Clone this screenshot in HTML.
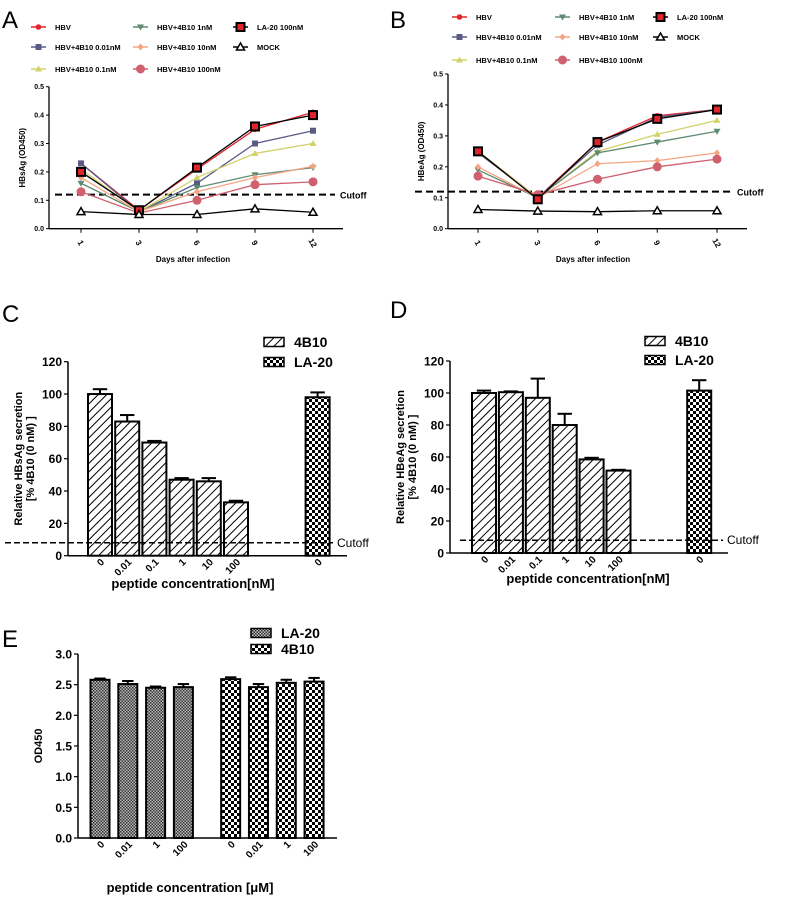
<!DOCTYPE html>
<html><head><meta charset="utf-8"><style>
html,body{margin:0;padding:0;background:#fff}
svg{display:block;font-family:"Liberation Sans",Arial,sans-serif}
</style></head><body>
<svg id="fig" width="787" height="897" viewBox="0 0 787 897" xmlns="http://www.w3.org/2000/svg">
<defs>
<pattern id="hatch" patternUnits="userSpaceOnUse" width="6" height="6" patternTransform="rotate(45)"><rect width="6" height="6" fill="#fff"/><line x1="0" y1="0" x2="0" y2="6" stroke="#000" stroke-width="2"/></pattern>
<pattern id="check" patternUnits="userSpaceOnUse" width="6" height="6"><rect width="6" height="6" fill="#fff"/><rect width="3" height="3" fill="#000"/><rect x="3" y="3" width="3" height="3" fill="#000"/></pattern>
<pattern id="fine" patternUnits="userSpaceOnUse" width="3" height="3"><rect width="3" height="3" fill="#bbb"/><rect width="1.5" height="1.5" fill="#333"/><rect x="1.5" y="1.5" width="1.5" height="1.5" fill="#333"/></pattern>
</defs>
</svg>
<script>
// ---------- data: panels A & B ----------
const dayLabels = ["1","3","6","9","12"];
const seriesNames = ["HBV","HBV+4B10 0.01nM","HBV+4B10 0.1nM","HBV+4B10 1nM","HBV+4B10 10nM","HBV+4B10 100nM","LA-20 100nM","MOCK"];
const aHBV   = [0.23,0.065,0.21,0.35,0.41];
const a001   = [0.23,0.06,0.16,0.30,0.345];
const a01    = [0.21,0.06,0.18,0.265,0.30];
const a1     = [0.16,0.06,0.145,0.19,0.215];
const a10    = [0.18,0.06,0.13,0.18,0.22];
const a100   = [0.13,0.055,0.10,0.155,0.165];
const aLA    = [0.20,0.065,0.215,0.36,0.40];
const aMOCK  = [0.06,0.05,0.05,0.07,0.058];
const bHBV   = [0.25,0.10,0.28,0.365,0.385];
const b001   = [0.245,0.10,0.27,0.36,0.385];
const b01    = [0.25,0.10,0.25,0.305,0.35];
const b1     = [0.19,0.10,0.245,0.28,0.315];
const b10    = [0.20,0.10,0.21,0.22,0.245];
const b100   = [0.17,0.11,0.16,0.20,0.225];
const bLA    = [0.25,0.095,0.28,0.355,0.385];
const bMOCK  = [0.062,0.057,0.055,0.058,0.058];
const lineTicks = [0,0.1,0.2,0.3,0.4,0.5];
const cutoffAB = 0.12;
// ---------- data: panels C & D ----------
const concLabels = ["0","0.01","0.1","1","10","100","0"];
const cVals = [100,83,70,47,46,33,98];
const cErr  = [3,4,1,1,2,1,3];
const dVals = [100,100.5,97,80,58.5,51.5,101.5];
const dErr  = [1.5,0.5,12,7,1,0.5,6.5];
const barTicks = [0,20,40,60,80,100,120];
const cutoffCD = 8;
// ---------- data: panel E ----------
const eLabels = ["0","0.01","1","100","0","0.01","1","100"];
const eVals = [2.58,2.51,2.45,2.46,2.59,2.46,2.53,2.55];
const eErr  = [0.02,0.05,0.02,0.05,0.03,0.05,0.05,0.06];
const eTicks = [0,0.5,1.0,1.5,2.0,2.5,3.0];

const svg = document.getElementById('fig');
const NS = 'http://www.w3.org/2000/svg';
function mk(tag, attrs, name, parent){
  const el = document.createElementNS(NS, tag);
  for (const k in attrs) el.setAttribute(k, attrs[k]);
  
  
  (parent||svg).appendChild(el);
  return el;
}
function txt(x,y,s,size,name,extra){
  const a = Object.assign({x:x,y:y,'font-size':size,'font-weight':'bold',fill:'#000'}, extra||{});
  const t = mk('text', a, name);
  t.textContent = s;
  return t;
}
const colors = ["#e0252b","#5a5a85","#d2d26a","#5f8a72","#f4a582","#d0606e","#000","#000"];
function marker(g,type,x,y,col){
  if(type===0) mk('circle',{cx:x,cy:y,r:2.8,fill:col},'marker',g);
  else if(type===1) mk('rect',{x:x-3,y:y-3,width:6,height:6,fill:col},'marker',g);
  else if(type===2) mk('path',{d:`M${x},${y-3.5}L${x+3.5},${y+2.5}L${x-3.5},${y+2.5}Z`,fill:col},'marker',g);
  else if(type===3) mk('path',{d:`M${x},${y+3.5}L${x+3.5},${y-2.5}L${x-3.5},${y-2.5}Z`,fill:col},'marker',g);
  else if(type===4) mk('path',{d:`M${x},${y-3.5}L${x+3},${y}L${x},${y+3.5}L${x-3},${y}Z`,fill:col},'marker',g);
  else if(type===5) mk('circle',{cx:x,cy:y,r:4.5,fill:col},'marker',g);
  else if(type===6) mk('rect',{x:x-4,y:y-4,width:8,height:8,fill:'#e0252b',stroke:'#000','stroke-width':2},'marker',g);
  else mk('path',{d:`M${x},${y-4}L${x+4},${y+3}L${x-4},${y+3}Z`,fill:'#fff',stroke:'#000','stroke-width':1.5},'marker',g);
}
function lineChart(p){
  const ys = v => p.y0 - (v/0.5)*(p.y0-p.yTop);
  const xs = i => p.xFirst + i*p.step;
  txt(p.letterX,28,p.letter,24,'panel-letter-'+p.letter,{'font-weight':'normal'});
  const cols=[p.lx1,p.lx2,p.lx3];
  const order=[[0,0],[1,0],[2,0],[3,1],[4,1],[5,1],[6,2],[7,2]];
  const rowFor=[0,1,2,0,1,2,0,1];
  order.forEach(([si,ci])=>{
    const g = mk('g',{},'legend-entry');
    const y = p.rows[rowFor[si]], x = cols[ci];
    mk('line',{x1:x,y1:y,x2:x+15,y2:y,stroke:colors[si],'stroke-width':1.5},'legend-line',g);
    marker(g,si,x+7.5,y,colors[si]);
    const t = mk('text',{x:x+24,y:y+3,'font-size':7.5,'font-weight':'bold'},'legend-label',g);
    t.textContent = seriesNames[si];
  });
  mk('line',{x1:p.x0,y1:p.y0,x2:p.x0,y2:p.yTop,stroke:'#000','stroke-width':1.3},'y-axis');
  mk('line',{x1:p.x0,y1:p.y0,x2:p.xEnd,y2:p.y0,stroke:'#000','stroke-width':1.3},'x-axis');
  lineTicks.forEach(v=>{
    mk('line',{x1:p.x0-3,y1:ys(v),x2:p.x0,y2:ys(v),stroke:'#000','stroke-width':1},'y-tick');
    txt(p.x0-5,ys(v)+2.5,v.toFixed(1),7,'y-tick-label',{'text-anchor':'end'});
  });
  dayLabels.forEach((d,i)=>{
    mk('line',{x1:xs(i),y1:p.y0,x2:xs(i),y2:p.y0+4,stroke:'#000','stroke-width':1},'x-tick');
    txt(xs(i),p.y0+17,d,8,'x-tick-label',{'text-anchor':'middle',transform:`rotate(60 ${xs(i)} ${p.y0+14})`});
  });
  txt(p.xLabel,262,'Days after infection',8,'x-axis-title',{'text-anchor':'middle'});
  txt(0,0,p.yTitle,8,'y-axis-title',{'text-anchor':'middle',transform:`translate(${p.x0-24},${(p.y0+p.yTop)/2}) rotate(-90)`});
  mk('line',{x1:p.cx1,y1:ys(cutoffAB),x2:p.cx2,y2:ys(cutoffAB),stroke:'#000','stroke-width':2,'stroke-dasharray':'7,4'},'cutoff-line');
  txt(p.cx2+5,ys(cutoffAB)+4,'Cutoff',9,'cutoff-label');
  p.series.forEach((arr,si)=>{
    const g = mk('g',{},'series-'+seriesNames[si].replace(/[^A-Za-z0-9]+/g,'-').toLowerCase());
    const d = arr.map((v,i)=>(i?'L':'M')+xs(i)+','+ys(v)).join('');
    mk('path',{d:d,fill:'none',stroke:colors[si],'stroke-width':1.3},'series-line',g);
    arr.forEach((v,i)=>marker(g,si,xs(i),ys(v),colors[si]));
  });
}
lineChart({letter:'A',letterX:2,x0:49,xEnd:343,y0:228.7,yTop:86.7,xFirst:81,step:58,
  rows:[27,47,69],lx1:31,lx2:133,lx3:233,xLabel:193,yTitle:'HBsAg (OD450)',cx1:55,cx2:335,
  series:[aHBV,a001,a01,a1,a10,a100,aLA,aMOCK]});
lineChart({letter:'B',letterX:390,x0:448,xEnd:747,y0:228.7,yTop:74,xFirst:478,step:59.75,
  rows:[17,37,60],lx1:452,lx2:555,lx3:653,xLabel:593,yTitle:'HBeAg (OD450)',cx1:415,cx2:732,
  series:[bHBV,b001,b01,b1,b10,b100,bLA,bMOCK]});

function barChart(p){
  const ys = v => p.y0 - (v/p.max)*(p.y0-p.yTop);
  txt(p.letterX,p.letterY,p.letter,24,'panel-letter-'+p.letter,{'font-weight':'normal'});
  mk('line',{x1:p.x0,y1:p.y0,x2:p.x0,y2:p.yTop,stroke:'#000','stroke-width':1.5},'y-axis');
  mk('line',{x1:p.x0,y1:p.y0,x2:p.xEnd,y2:p.y0,stroke:'#000','stroke-width':1.5},'x-axis');
  p.ticks.forEach(v=>{
    mk('line',{x1:p.x0-4,y1:ys(v),x2:p.x0,y2:ys(v),stroke:'#000','stroke-width':1.2},'y-tick');
    txt(p.x0-6,ys(v)+4.5,p.fmt(v),12,'y-tick-label',{'text-anchor':'end'});
  });
  p.vals.forEach((v,i)=>{
    const cx=p.xFirst+p.pos[i]*p.step, w=p.bw;
    const g = mk('g',{},'bar-'+i);
    mk('rect',{x:cx-w/2,y:ys(v),width:w,height:p.y0-ys(v),fill:`url(#${p.fills[i]})`,stroke:'#000','stroke-width':2},'bar',g);
    const ey=ys(v+p.err[i]);
    mk('line',{x1:cx,y1:ys(v),x2:cx,y2:ey,stroke:'#000','stroke-width':2},'error-bar',g);
    mk('line',{x1:cx-w*0.3,y1:ey,x2:cx+w*0.3,y2:ey,stroke:'#000','stroke-width':2},'error-cap',g);
    txt(cx+5,p.y0+7,p.labels[i],10,'x-tick-label',{'text-anchor':'end',transform:`rotate(-45 ${cx+5} ${p.y0+7})`});
  });
  if(p.cutoff!==undefined){
    mk('line',{x1:p.cx1,y1:ys(p.cutoff),x2:p.cx2,y2:ys(p.cutoff),stroke:'#000','stroke-width':1.5,'stroke-dasharray':'6,3'},'cutoff-line');
    txt(p.cx2+4,ys(p.cutoff)+4,'Cutoff',12,'cutoff-label',{'font-weight':'normal'});
  }
  p.legend.forEach((l,i)=>{
    const g=mk('g',{},'legend-entry');
    mk('rect',{x:p.lgx,y:p.lgy[i]-4.5,width:20,height:9,fill:`url(#${l[1]})`,stroke:'#000','stroke-width':1.5},'legend-swatch',g);
    const t=mk('text',{x:p.lgx+30,y:p.lgy[i]+5,'font-size':14,'font-weight':'bold'},'legend-label',g);
    t.textContent=l[0];
  });
  txt(p.xLabelX,p.xLabelY,p.xTitle,13,'x-axis-title',{'text-anchor':'middle'});
  p.yTitle.forEach((s,i)=>{
    txt(0,0,s,11,'y-axis-title',{'text-anchor':'middle',transform:`translate(${p.ytx+i*12},${(p.y0+p.yTop)/2}) rotate(-90)`});
  });
}
const cdPos=[0,1,2,3,4,5,8];
const cdFill=['hatch','hatch','hatch','hatch','hatch','hatch','check'];
barChart({letter:'C',letterX:2,letterY:322,x0:68,xEnd:347,y0:555.7,yTop:361.7,max:120,ticks:barTicks,fmt:v=>String(v),
  vals:cVals,err:cErr,labels:concLabels,pos:cdPos,xFirst:100,step:27.2,bw:24,fills:cdFill,cutoff:cutoffCD,cx1:5,cx2:333,
  legend:[['4B10','hatch'],['LA-20','check']],lgx:264,lgy:[342,362],xLabelX:193,xLabelY:588,
  xTitle:'peptide concentration[nM]',yTitle:['Relative  HBsAg secretion','[% 4B10 (0 nM) ]'],ytx:22});
barChart({letter:'D',letterX:390,letterY:318,x0:450,xEnd:728,y0:553,yTop:361,max:120,ticks:barTicks,fmt:v=>String(v),
  vals:dVals,err:dErr,labels:concLabels,pos:cdPos,xFirst:484,step:26.9,bw:24,fills:cdFill,cutoff:cutoffCD,cx1:460,cx2:723,
  legend:[['4B10','hatch'],['LA-20','check']],lgx:645,lgy:[341,360],xLabelX:588,xLabelY:583,
  xTitle:'peptide concentration[nM]',yTitle:['Relative  HBeAg secretion','[% 4B10 (0 nM) ]'],ytx:404});
barChart({letter:'E',letterX:2,letterY:647,x0:78,xEnd:337,y0:838,yTop:654,max:3,ticks:eTicks,fmt:v=>v.toFixed(1),
  vals:eVals,err:eErr,labels:eLabels,pos:[0,1,2,3,4.7,5.7,6.7,7.7],xFirst:100,step:27.8,bw:19,
  fills:['fine','fine','fine','fine','check','check','check','check'],
  legend:[['LA-20','fine'],['4B10','check']],lgx:251,lgy:[633,649],xLabelX:190,xLabelY:892,
  xTitle:'peptide concentration [\u03bcM]',yTitle:['OD450'],ytx:42});
</script>
</body></html>
